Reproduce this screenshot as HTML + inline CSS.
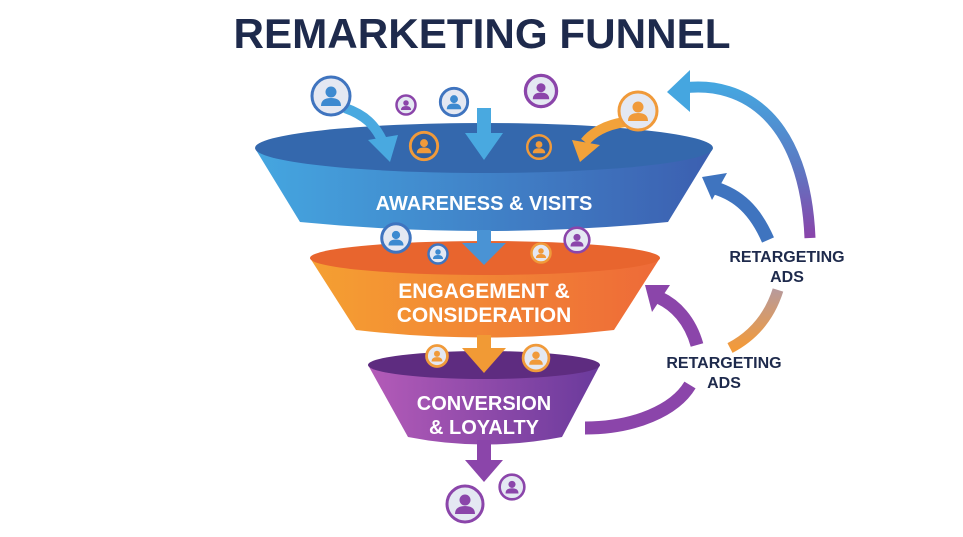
<!DOCTYPE html>
<html><head><meta charset="utf-8"><style>
html,body{margin:0;padding:0;background:#fff;}
svg{display:block;}
text{font-family:"Liberation Sans",sans-serif;font-weight:bold;}
</style></head><body>
<svg width="963" height="537" viewBox="0 0 963 537" xmlns="http://www.w3.org/2000/svg">
<defs>
<linearGradient id="gb" x1="0" x2="1"><stop offset="0" stop-color="#45a6e0"/><stop offset="1" stop-color="#3c5fb0"/></linearGradient>
<linearGradient id="go" x1="0" x2="1"><stop offset="0" stop-color="#f5a032"/><stop offset="1" stop-color="#ee6a38"/></linearGradient>
<linearGradient id="gp" x1="0" x2="1"><stop offset="0" stop-color="#b45bb8"/><stop offset="1" stop-color="#6a3a9c"/></linearGradient>
<linearGradient id="arc" x1="0" y1="0" x2="0" y2="1"><stop offset="0" stop-color="#45a6e0"/><stop offset="0.5" stop-color="#5a7cc4"/><stop offset="1" stop-color="#8a44aa"/></linearGradient>
<linearGradient id="arc2" x1="0" y1="0" x2="0" y2="1"><stop offset="0" stop-color="#b89a9a"/><stop offset="1" stop-color="#f29a3a"/></linearGradient>
</defs>
<rect width="963" height="537" fill="#fff"/>
<text x="482" y="48" text-anchor="middle" font-size="42" fill="#1e2a4c" textLength="497" lengthAdjust="spacingAndGlyphs">REMARKETING FUNNEL</text>

<!-- right arcs -->
<path d="M683,88 C745,80 805,120 810,238" fill="none" stroke="url(#arc)" stroke-width="11"/>
<polygon points="667,92 690,70 690,112" fill="#45a6e0"/>
<path d="M778,290 C770,315 755,335 730,348" fill="none" stroke="url(#arc2)" stroke-width="11"/>
<path d="M768,240 C755,210 738,195 715,188" fill="none" stroke="#3f74bf" stroke-width="13"/>
<polygon points="702,177 727,173 712,200" fill="#3f74bf"/>
<!-- purple arc -->
<path d="M585,428 C635,428 675,410 690,385" fill="none" stroke="#8b45aa" stroke-width="13"/>
<path d="M697,345 C690,320 675,305 660,298" fill="none" stroke="#8b45aa" stroke-width="13"/>
<polygon points="645,285 670,285 652,312" fill="#8b45aa"/>

<!-- bottom funnel -->
<path d="M368,365 L408,437 Q484,452 562,437 L600,365 Z" fill="url(#gp)"/>
<ellipse cx="484" cy="365" rx="116" ry="14" fill="#5e2c80"/>
<text x="484" y="410" text-anchor="middle" font-size="20" fill="#fff">CONVERSION</text>
<text x="484" y="434" text-anchor="middle" font-size="20" fill="#fff">&amp; LOYALTY</text>
<rect x="477" y="440" width="14" height="22" fill="#8b45aa"/>
<polygon points="465,460 503,460 484,482" fill="#8b45aa"/>

<!-- middle funnel -->
<path d="M310,258 L356,330 Q484,345 614,330 L660,258 Z" fill="url(#go)"/>
<ellipse cx="485" cy="258" rx="175" ry="17" fill="#e8652e"/>
<text x="484" y="298" text-anchor="middle" font-size="21" fill="#fff">ENGAGEMENT &amp;</text>
<text x="484" y="322" text-anchor="middle" font-size="21" fill="#fff">CONSIDERATION</text>
<rect x="477" y="335" width="14" height="15" fill="#f19a35"/>
<polygon points="462,348 506,348 484,373" fill="#f19a35"/>

<!-- top funnel -->
<path d="M256,150 L300,222 Q484,240 668,222 L712,150 Z" fill="url(#gb)"/>
<ellipse cx="484" cy="148" rx="229" ry="25" fill="#3468ad"/>
<text x="484" y="210" text-anchor="middle" font-size="20" fill="#fff">AWARENESS &amp; VISITS</text>
<rect x="477" y="108" width="14" height="28" fill="#49a9e0"/>
<polygon points="465,133 503,133 484,160" fill="#49a9e0"/>
<rect x="477" y="230" width="14" height="15" fill="#4a93d4"/>
<polygon points="462,243 506,243 484,265" fill="#4a93d4"/>
<path d="M345,108 C365,115 375,125 383,142" fill="none" stroke="#49a9e0" stroke-width="10"/>
<polygon points="368,140 398,135 390,162" fill="#49a9e0"/>
<path d="M625,122 C605,125 592,133 585,142" fill="none" stroke="#f2a23a" stroke-width="10"/>
<polygon points="572,140 600,145 580,162" fill="#f2a23a"/>

<!-- person icons -->
<g stroke-width="3">
<g transform="translate(331,96)"><circle r="19" fill="#e4e8f2" stroke="#3f74bf"/><circle cy="-4" r="5.5" fill="#3d8ad0"/><path d="M-10,10 Q-10,2 0,2 Q10,2 10,10 Z" fill="#3d8ad0"/></g>
<g transform="translate(406,105) scale(0.5)"><circle r="19" fill="#e4e8f2" stroke="#8b45aa" stroke-width="5"/><circle cy="-4" r="5.5" fill="#8b45aa"/><path d="M-10,10 Q-10,2 0,2 Q10,2 10,10 Z" fill="#8b45aa"/></g>
<g transform="translate(454,102) scale(0.72)"><circle r="19" fill="#e4e8f2" stroke="#3f74bf" stroke-width="4"/><circle cy="-4" r="5.5" fill="#3d8ad0"/><path d="M-10,10 Q-10,2 0,2 Q10,2 10,10 Z" fill="#3d8ad0"/></g>
<g transform="translate(541,91) scale(0.82)"><circle r="19" fill="#e4e8f2" stroke="#8b45aa" stroke-width="4"/><circle cy="-4" r="5.5" fill="#8b45aa"/><path d="M-10,10 Q-10,2 0,2 Q10,2 10,10 Z" fill="#8b45aa"/></g>
<g transform="translate(638,111)"><circle r="19" fill="#e4e8f2" stroke="#f09a3a"/><circle cy="-4" r="5.5" fill="#f09a3a"/><path d="M-10,10 Q-10,2 0,2 Q10,2 10,10 Z" fill="#f09a3a"/></g>
<g transform="translate(424,146) scale(0.72)"><circle r="19" fill="#2e5fa0" stroke="#f09a3a" stroke-width="4"/><circle cy="-4" r="5.5" fill="#f09a3a"/><path d="M-10,10 Q-10,2 0,2 Q10,2 10,10 Z" fill="#f09a3a"/></g>
<g transform="translate(539,147) scale(0.62)"><circle r="19" fill="#2e5fa0" stroke="#f09a3a" stroke-width="4"/><circle cy="-4" r="5.5" fill="#f09a3a"/><path d="M-10,10 Q-10,2 0,2 Q10,2 10,10 Z" fill="#f09a3a"/></g>
<g transform="translate(396,238) scale(0.75)"><circle r="19" fill="#e4e8f2" stroke="#3f74bf" stroke-width="4"/><circle cy="-4" r="5.5" fill="#3d8ad0"/><path d="M-10,10 Q-10,2 0,2 Q10,2 10,10 Z" fill="#3d8ad0"/></g>
<g transform="translate(438,254) scale(0.5)"><circle r="19" fill="#e4e8f2" stroke="#3f74bf" stroke-width="5"/><circle cy="-4" r="5.5" fill="#3d8ad0"/><path d="M-10,10 Q-10,2 0,2 Q10,2 10,10 Z" fill="#3d8ad0"/></g>
<g transform="translate(541,253) scale(0.5)"><circle r="19" fill="#e4e8f2" stroke="#f09a3a" stroke-width="5"/><circle cy="-4" r="5.5" fill="#f09a3a"/><path d="M-10,10 Q-10,2 0,2 Q10,2 10,10 Z" fill="#f09a3a"/></g>
<g transform="translate(577,240) scale(0.65)"><circle r="19" fill="#e4e8f2" stroke="#8b45aa" stroke-width="4"/><circle cy="-4" r="5.5" fill="#8b45aa"/><path d="M-10,10 Q-10,2 0,2 Q10,2 10,10 Z" fill="#8b45aa"/></g>
<g transform="translate(437,356) scale(0.55)"><circle r="19" fill="#e4e8f2" stroke="#f09a3a" stroke-width="5"/><circle cy="-4" r="5.5" fill="#f09a3a"/><path d="M-10,10 Q-10,2 0,2 Q10,2 10,10 Z" fill="#f09a3a"/></g>
<g transform="translate(536,358) scale(0.68)"><circle r="19" fill="#e4e8f2" stroke="#f09a3a" stroke-width="4"/><circle cy="-4" r="5.5" fill="#f09a3a"/><path d="M-10,10 Q-10,2 0,2 Q10,2 10,10 Z" fill="#f09a3a"/></g>
<g transform="translate(465,504)"><circle r="18" fill="#e4e8f2" stroke="#8b45aa"/><circle cy="-4" r="5.5" fill="#8b45aa"/><path d="M-10,10 Q-10,2 0,2 Q10,2 10,10 Z" fill="#8b45aa"/></g>
<g transform="translate(512,487) scale(0.65)"><circle r="19" fill="#e4e8f2" stroke="#8b45aa" stroke-width="4"/><circle cy="-4" r="5.5" fill="#8b45aa"/><path d="M-10,10 Q-10,2 0,2 Q10,2 10,10 Z" fill="#8b45aa"/></g>
</g>

<text x="787" y="262" text-anchor="middle" font-size="16" fill="#1e2a4c">RETARGETING</text>
<text x="787" y="282" text-anchor="middle" font-size="16" fill="#1e2a4c">ADS</text>
<text x="724" y="368" text-anchor="middle" font-size="16" fill="#1e2a4c">RETARGETING</text>
<text x="724" y="388" text-anchor="middle" font-size="16" fill="#1e2a4c">ADS</text>
</svg>
</body></html>
